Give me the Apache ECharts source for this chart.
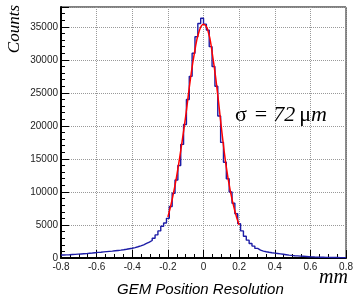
<!DOCTYPE html>
<html>
<head>
<meta charset="utf-8">
<script src="https://cdn.jsdelivr.net/npm/echarts@6/dist/echarts.min.js"></script>
<style>
  html, body { margin: 0; padding: 0; background: #fff; }
  #chart { width: 356px; height: 299px; }
</style>
</head>
<body>
<div id="chart"></div>
<script>
// histogram: 100 bins from -0.8 to 0.8 mm
const BIN_MIN = -0.8;
const BIN_WIDTH = 0.016;
const counts = [
  460, 480, 500, 530, 550, 580, 610, 640, 670, 710,
  750, 800, 850, 880, 920, 960, 1000, 1040, 1090, 1140,
  1190, 1250, 1320, 1400, 1480, 1580, 1700, 1840, 2000, 2200,
  2400, 2650, 3000, 3500, 4100, 4800, 5300, 6000, 7800, 9800,
  11800, 14000, 17200, 20200, 24000, 27500, 31000, 33500, 35500, 36300,
  35400, 34500, 32000, 29000, 26000, 21500, 17500, 14500, 12000, 10000,
  8300, 6700, 5200, 4100, 3300, 2700, 2200, 1800, 1450, 1200,
  1050, 950, 870, 800, 740, 680, 620, 560, 500, 440,
  390, 350, 320, 290, 260, 230, 200, 170, 150, 140,
  120, 110, 100, 90, 80, 70, 65, 60, 55, 50
];

// gaussian fit curve
const fitX = [-0.2, -0.175, -0.15, -0.125, -0.1, -0.075, -0.05, -0.025, 0,
              0.025, 0.05, 0.075, 0.1, 0.125, 0.15, 0.175, 0.2];
const fitY = [6200, 9000, 12500, 16800, 21500, 26800, 31200, 34300, 35400,
              34400, 30800, 25800, 19800, 14300, 10200, 7200, 5000];

const xTicks = [-0.8, -0.6, -0.4, -0.2, 0, 0.2, 0.4, 0.6, 0.8];

// step points at bin left edges + closing point
const histData = counts.map((c, i) => [BIN_MIN + i * BIN_WIDTH, c]);
histData.push([BIN_MIN + counts.length * BIN_WIDTH, counts[counts.length - 1]]);

const fitData = fitX.map((x, i) => [x, fitY[i]]);

const chart = echarts.init(document.getElementById('chart'), null, { renderer: 'canvas' });

const labelFont = { fontFamily: 'Liberation Sans, Arial, sans-serif', fontSize: 10, color: '#222' };
const serif = '"Liberation Serif", "Times New Roman", serif';

chart.setOption({
  animation: false,
  backgroundColor: '#fff',
  grid: {
    left: 61, right: 8, top: 7, bottom: 41,
    show: true, borderColor: '#000', borderWidth: 1, backgroundColor: 'transparent'
  },
  xAxis: {
    type: 'value',
    min: -0.8, max: 0.8, interval: 0.2,
    axisLine: { show: true, onZero: false, lineStyle: { color: '#000', width: 2 } },
    axisTick: { show: true, inside: true, length: 8, lineStyle: { color: '#000' } },
    minorTick: { show: true, splitNumber: 4, length: 4, lineStyle: { color: '#000' } },
    splitLine: { show: true, lineStyle: { color: '#999', type: [1, 1], width: 1 } },
    axisLabel: {
      ...labelFont, margin: 4,
      formatter: v => {
        const r = Math.round(v * 10) / 10;
        return xTicks.includes(r) ? String(r) : '';
      }
    }
  },
  yAxis: {
    type: 'value',
    min: 0, max: 38000, interval: 5000,
    axisLine: { show: true, onZero: false, lineStyle: { color: '#000', width: 2 } },
    axisTick: { show: true, inside: true, length: 8, lineStyle: { color: '#000' } },
    minorTick: { show: true, splitNumber: 5, length: 4, lineStyle: { color: '#000' } },
    splitLine: { show: true, lineStyle: { color: '#999', type: [1, 1], width: 1 } },
    axisLabel: {
      ...labelFont, margin: 3, showMaxLabel: false,
      formatter: v => (v % 5000 === 0 ? String(v) : '')
    }
  },
  series: [
    {
      type: 'line',
      data: histData,
      step: 'end',
      symbol: 'none',
      lineStyle: { color: '#1c1ca6', width: 1.4 },
      z: 3
    },
    {
      type: 'line',
      data: fitData,
      smooth: true,
      symbol: 'none',
      lineStyle: { color: '#ff0000', width: 1.5 },
      z: 4
    }
  ],
  graphic: [
    {
      type: 'text', left: 6, top: 5, rotation: Math.PI / 2,
      style: {
        text: 'Counts', font: 'italic 17px ' + serif,
        fill: '#000'
      }
    },
    {
      type: 'text', left: 235, top: 104,
      style: {
        text: '{a|σ}{c|=}{b|72}{a|μ}{b|m}',
        rich: {
          a: { font: '22px ' + serif, fill: '#000' },
          b: { font: 'italic 22px ' + serif, fill: '#000', padding: [0, 4, 0, 0] },
          c: { font: '22px ' + serif, fill: '#000', padding: [0, 6, 0, 8] }
        }
      }
    },
    {
      type: 'text', left: 319, top: 268,
      style: {
        text: 'mm', font: 'italic 20px ' + serif,
        fill: '#000'
      }
    },
    {
      type: 'text', left: 117, top: 282,
      style: {
        text: 'GEM Position Resolution',
        font: 'italic 15px "Liberation Sans", Arial, sans-serif',
        fill: '#000'
      }
    }
  ]
});
</script>
</body>
</html>
